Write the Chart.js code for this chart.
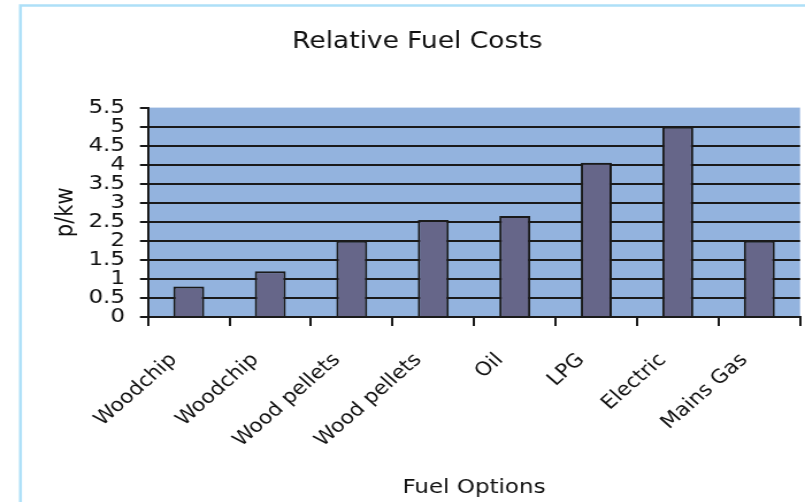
<!DOCTYPE html>
<html>
<head>
<meta charset="utf-8">
<script src="https://cdn.jsdelivr.net/npm/chart.js@4"></script>
<style>
  body { margin: 0; background: #fff; }
</style>
</head>
<body>
<!-- the original picture is stretched sideways, so the canvas is too -->
<canvas id="fuel-costs" width="700" height="502" style="width:805px;height:502px;display:block"></canvas>
<script>
var categories = ['Woodchip', 'Woodchip', 'Wood pellets', 'Wood pellets', 'Oil', 'LPG', 'Electric', 'Mains Gas'];
var costs = [0.8, 1.2, 2.0, 2.55, 2.65, 4.05, 5.0, 2.0];
var yMin = 0;
var yMax = 5.5;
var yStep = 0.5;

Chart.defaults.font.family = "'DejaVu Sans', sans-serif";
Chart.defaults.color = '#111';

// blue plot background
var plotBackground = {
  id: 'plotBackground',
  beforeDraw: function (chart) {
    var a = chart.chartArea;
    var ctx = chart.ctx;
    ctx.save();
    ctx.fillStyle = '#93b3de';
    ctx.fillRect(a.left, a.top, a.right - a.left, a.bottom - a.top);
    ctx.restore();
  }
};

// light blue frame round the picture
var frame = {
  id: 'frame',
  afterDraw: function (chart) {
    var ctx = chart.ctx;
    ctx.save();
    ctx.strokeStyle = '#aee0f8';
    ctx.lineWidth = 2.6;
    ctx.beginPath();
    ctx.moveTo(17.8, chart.height);
    ctx.lineTo(17.8, 5.5);
    ctx.lineTo(chart.width, 5.5);
    ctx.stroke();
    ctx.restore();
  }
};

var ctx = document.getElementById('fuel-costs');
var chart = new Chart(ctx, {
  type: 'bar',
  data: {
    labels: categories,
    datasets: [{
      label: 'Relative Fuel Costs',
      data: costs,
      backgroundColor: '#666689',
      borderColor: '#1a1a1a',
      borderWidth: 2,
      barPercentage: 0.38,
      categoryPercentage: 1
    }]
  },
  options: {
    responsive: false,
    devicePixelRatio: 1,
    animation: false,
    layout: { padding: { left: 30, right: 4.3, top: 0, bottom: 0 } },
    plugins: {
      legend: { display: false },
      tooltip: { enabled: false },
      title: {
        display: true,
        text: 'Relative Fuel Costs',
        color: '#111',
        font: { size: 23, weight: 'normal' },
        padding: { top: 28, bottom: 52 }
      }
    },
    scales: {
      x: {
        offset: true,
        grid: {
          offset: true,
          drawOnChartArea: false,
          color: '#1a1a1a',
          lineWidth: 2,
          tickLength: 9
        },
        border: { color: '#1a1a1a', width: 2 },
        ticks: {
          autoSkip: false,
          minRotation: 45,
          maxRotation: 45,
          padding: 23,
          labelOffset: -13,
          color: '#111',
          font: { size: 19 }
        },
        title: {
          display: true,
          text: 'Fuel Options',
          color: '#111',
          font: { size: 20 },
          padding: { top: 0, bottom: 2 }
        },
        afterFit: function (scale) { scale.height = 185; }
      },
      y: {
        min: yMin,
        max: yMax,
        grid: {
          color: function (c) {
            return (c.tick && (c.tick.value === yMax || c.tick.value === yMin)) ? 'rgba(0,0,0,0)' : '#1a1a1a';
          },
          tickColor: '#1a1a1a',
          lineWidth: 2,
          tickLength: 7
        },
        border: { color: '#1a1a1a', width: 2 },
        ticks: {
          stepSize: yStep,
          maxTicksLimit: 12,
          autoSkip: false,
          padding: 13,
          color: '#111',
          font: { size: 20 },
          callback: function (value) { return String(value); }
        },
        title: {
          display: true,
          text: 'p/kw',
          color: '#111',
          font: { size: 21 },
          padding: { top: 15.4, bottom: 0 }
        },
        afterFit: function (scale) { scale.width = 98.7; }
      }
    }
  },
  plugins: [plotBackground, frame]
});
</script>
</body>
</html>
